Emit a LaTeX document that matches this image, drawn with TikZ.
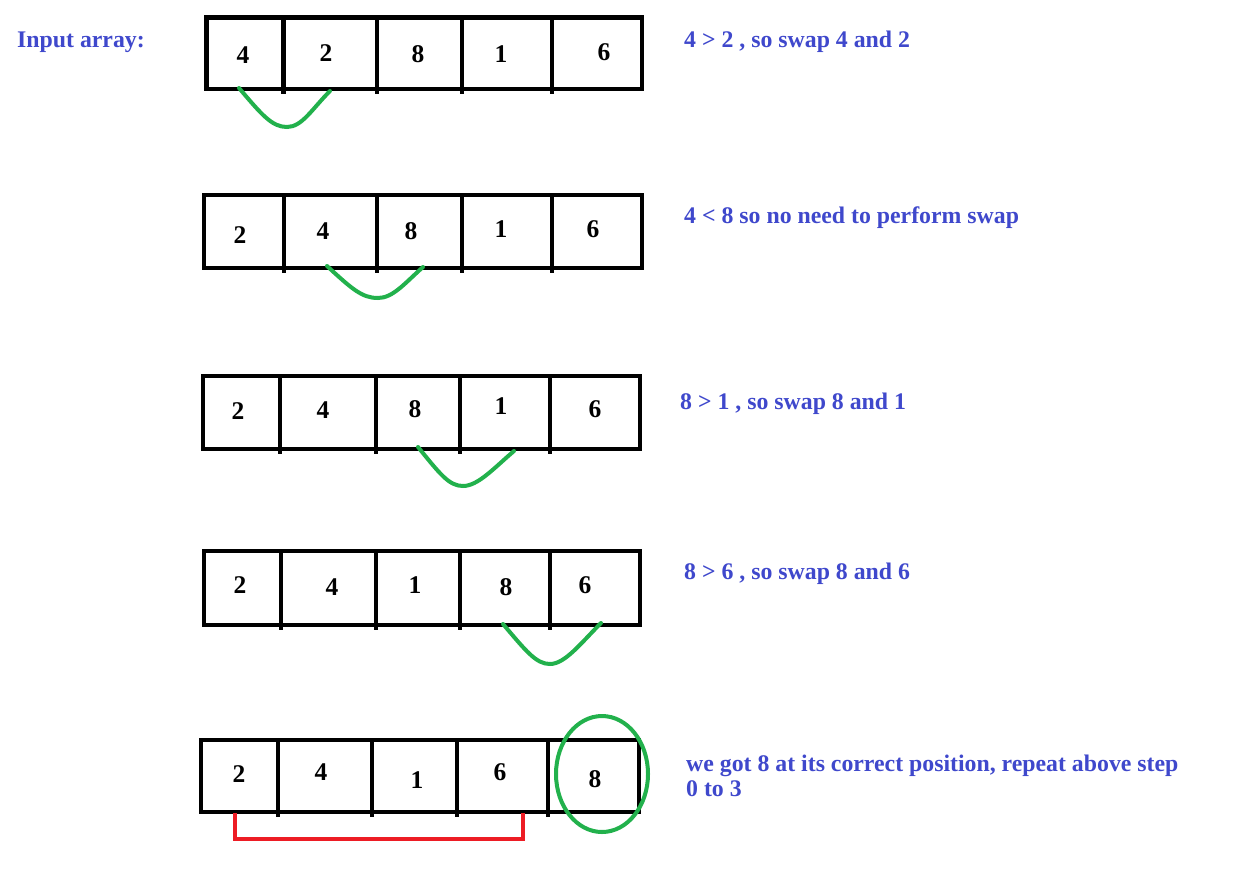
\documentclass[tikz,border=0pt]{standalone}
\usepackage{fontspec}
\setmainfont{Liberation Serif}
\definecolor{notecolor}{HTML}{3F48CC}
\definecolor{markgreen}{HTML}{22B14C}
\definecolor{bracketred}{HTML}{ED1C24}
\begin{document}
\begin{tikzpicture}[x=1pt,y=-1pt,
  cellline/.style={line width=4.5pt},
  num/.style={font=\fontsize{25.5}{30}\selectfont\bfseries, inner sep=0pt},
  notetext/.style={font=\fontsize{23.8}{26}\selectfont\bfseries, text=notecolor, anchor=base west, inner sep=0pt},
  swaparc/.style={draw=markgreen, line width=4pt, line cap=round},
  keptpair/.style={draw=bracketred, line width=4pt},
]
\useasboundingbox (0,0) rectangle (1258,876);
\fill[white] (0,0) rectangle (1258,876);

% Row 1
\draw[cellline] (206.5,17.5) rectangle (642,89);
\foreach \x in {283.5,377,462,552} \draw[cellline] (\x,17.5) -- (\x,94);
\node[num] (r1n1) at (243,55) {4};
\node[num] (r1n2) at (326,53) {2};
\node[num] (r1n3) at (418,54) {8};
\node[num] (r1n4) at (501,54) {1};
\node[num] (r1n5) at (604,52) {6};
\coordinate (r1a) at (239,88);
\coordinate (r1m) at (287,127);
\coordinate (r1b) at (330,91);
\draw[swaparc] (r1a) .. controls (262,115) and (272,127) .. (r1m)
                     .. controls (302,127) and (312,109) .. (r1b);

% Row 2
\draw[cellline] (204,195) rectangle (642,268);
\foreach \x in {284,377,462,552} \draw[cellline] (\x,195) -- (\x,273);
\node[num] (r2n1) at (240,235) {2};
\node[num] (r2n2) at (323,231) {4};
\node[num] (r2n3) at (411,231) {8};
\node[num] (r2n4) at (501,229) {1};
\node[num] (r2n5) at (593,229) {6};
\coordinate (r2a) at (327,266);
\coordinate (r2m) at (378,298);
\coordinate (r2b) at (423,267);
\draw[swaparc] (r2a) .. controls (352,289) and (362,298) .. (r2m)
                     .. controls (393,298) and (405,283) .. (r2b);

% Row 3
\draw[cellline] (203,376) rectangle (640,449);
\foreach \x in {280,376,460,550} \draw[cellline] (\x,376) -- (\x,454);
\node[num] (r3n1) at (238,411) {2};
\node[num] (r3n2) at (323,410) {4};
\node[num] (r3n3) at (415,409) {8};
\node[num] (r3n4) at (501,406) {1};
\node[num] (r3n5) at (595,409) {6};
\coordinate (r3a) at (418,447);
\coordinate (r3m) at (463,486);
\coordinate (r3b) at (514,451);
\draw[swaparc] (r3a) .. controls (440,474) and (449,486) .. (r3m)
                     .. controls (478,486) and (494,468) .. (r3b);

% Row 4
\draw[cellline] (204,551) rectangle (640,625);
\foreach \x in {281,376,460,550} \draw[cellline] (\x,551) -- (\x,630);
\node[num] (r4n1) at (240,585) {2};
\node[num] (r4n2) at (332,587) {4};
\node[num] (r4n3) at (415,585) {1};
\node[num] (r4n4) at (506,587) {8};
\node[num] (r4n5) at (585,585) {6};
\coordinate (r4a) at (503,624);
\coordinate (r4m) at (550,664);
\coordinate (r4b) at (601,623);
\draw[swaparc] (r4a) .. controls (526,651) and (536,664) .. (r4m)
                     .. controls (565,664) and (581,643) .. (r4b);

% Row 5
\draw[cellline] (201,740) rectangle (639,812);
\foreach \x in {278,372,457,548} \draw[cellline] (\x,740) -- (\x,817);
\node[num] (r5n1) at (239,774) {2};
\node[num] (r5n2) at (321,772) {4};
\node[num] (r5n3) at (417,780) {1};
\node[num] (r5n4) at (500,772) {6};
\node[num] (r5n5) at (595,779) {8};
\draw[draw=markgreen, line width=4pt] (602,774) ellipse [x radius=46, y radius=58];
\coordinate (r5a) at (235,813);
\coordinate (r5b) at (523,813);
\draw[keptpair] (r5a) -- (235,839) -- (523,839) -- (r5b);

% Notes
\node[notetext] (lbl) at (17,47) {Input array:};
\node[notetext] (t1) at (684,47) {4 > 2 , so swap 4 and 2};
\node[notetext] (t2) at (684,223) {4 < 8 so no need to perform swap};
\node[notetext] (t3) at (680,409) {8 > 1 , so swap 8 and 1};
\node[notetext] (t4) at (684,579) {8 > 6 , so swap 8 and 6};
\node[notetext] (t5) at (686,771) {we got 8 at its correct position, repeat above step};
\node[notetext] (t6) at (686,796) {0 to 3};
\end{tikzpicture}
\end{document}
